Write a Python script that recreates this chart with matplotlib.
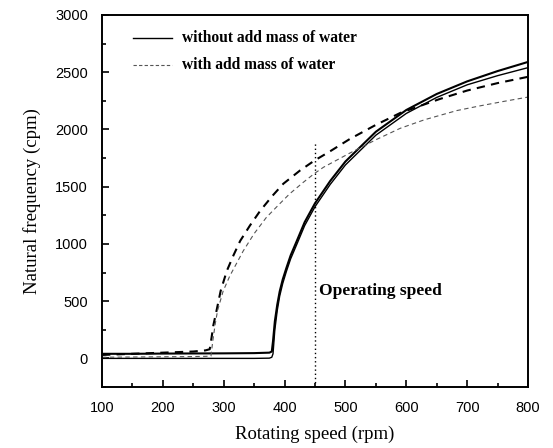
import matplotlib
matplotlib.use("Agg")
import matplotlib.pyplot as plt
from matplotlib.ticker import MultipleLocator

# Data
rpm_solid = [100, 150, 200, 250, 300, 350, 375, 379, 381, 384, 388, 392, 397, 403,
             410, 420, 433, 450, 475, 500, 550, 600, 650, 700, 750, 800]
solid_thick = [40, 40, 42, 43, 44, 46, 50, 60, 150, 323, 470, 585, 690, 790,
               900, 1025, 1190, 1355, 1550, 1720, 1980, 2170, 2310, 2420, 2510, 2590]
solid_thin = [0, 0, 0, 0, 0, 0, 2, 10, 40, 250, 420, 545, 655, 760,
              870, 995, 1160, 1325, 1520, 1690, 1950, 2140, 2280, 2390, 2470, 2540]

rpm_dash_thick = [100, 150, 200, 250, 270, 277, 280, 283, 288, 295, 305, 316, 327, 343,
                  360, 380, 398, 425, 449, 475, 507, 550, 590, 625, 655, 700, 750, 800]
dash_thick = [30, 40, 50, 60, 70, 80, 180, 290, 412, 590, 763, 900, 1026, 1160,
              1290, 1420, 1526, 1640, 1728, 1810, 1916, 2040, 2144, 2210, 2266, 2340,
              2405, 2460]

rpm_dash_thin = [100, 150, 200, 250, 270, 279, 282, 286, 290, 299, 310, 332, 350, 370,
                 390, 408, 430, 449, 464, 507, 550, 590, 630, 683, 720, 760, 800]
dash_thin = [10, 12, 14, 16, 18, 20, 150, 300, 420, 587, 720, 938, 1090, 1231,
             1340, 1436, 1535, 1615, 1670, 1793, 1910, 2010, 2085, 2165, 2205, 2245, 2283]

operating_speed = 450
operating_line_top = 1880

legend_labels = ["without add mass of water", "with add mass of water"]

serif = ["Liberation Serif", "DejaVu Serif"]
sans = ["Liberation Sans", "DejaVu Sans"]

fig = plt.figure(figsize=(5.53, 4.48), dpi=100)
ax = fig.add_axes([102 / 553, 1 - 387 / 448, (528 - 102) / 553, (387 - 15) / 448])

ax.plot(rpm_solid, solid_thick, color="black", lw=1.5)
ax.plot(rpm_solid, solid_thin, color="black", lw=1.0)
ax.plot(rpm_dash_thick, dash_thick, color="black", lw=1.5, ls=(0, (4, 3)))
ax.plot(rpm_dash_thin, dash_thin, color="#555555", lw=0.8, ls=(0, (4, 3)))

ax.plot([operating_speed, operating_speed], [-250, operating_line_top],
        color="black", lw=1.0, ls=(0, (1, 2)))
ax.text(457, 586, "Operating speed", fontfamily=serif, fontweight="bold",
        fontsize=12.5, va="center", ha="left")

# Legend drawn manually
ax.plot([151, 215], [2800, 2800], color="black", lw=1.0)
ax.plot([151, 215], [2563, 2563], color="#555555", lw=0.8, ls=(0, (3, 2)))
ax.text(231, 2800, legend_labels[0], fontfamily=serif, fontweight="bold",
        fontsize=11.2, va="center")
ax.text(231, 2563, legend_labels[1], fontfamily=serif, fontweight="bold",
        fontsize=11.2, va="center")

ax.set_xlim(100, 800)
ax.set_ylim(-250, 3000)
ax.xaxis.set_major_locator(MultipleLocator(100))
ax.xaxis.set_minor_locator(MultipleLocator(50))
ax.yaxis.set_major_locator(MultipleLocator(500))
ax.yaxis.set_minor_locator(MultipleLocator(250))
ax.tick_params(which="both", direction="in", top=False, right=False, width=1.2)
ax.tick_params(which="major", length=5, labelsize=10.5)
ax.tick_params(axis="x", which="major", pad=10)
ax.tick_params(axis="y", which="major", pad=10)
ax.tick_params(which="minor", length=3)
for lab in ax.get_xticklabels() + ax.get_yticklabels():
    lab.set_fontfamily(sans)
for s in ax.spines.values():
    s.set_linewidth(1.4)

ax.set_xlabel("Rotating speed (rpm)", fontfamily=serif, fontsize=13.5, labelpad=8)
ax.set_ylabel("Natural frequency (cpm)", fontfamily=serif, fontsize=13.5, labelpad=10)

fig.savefig("out.png", dpi=100)
